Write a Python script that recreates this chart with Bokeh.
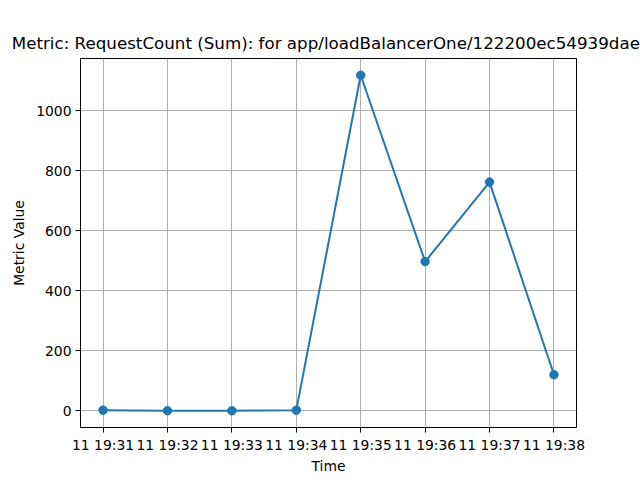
from bokeh.plotting import figure
from bokeh.embed import file_html
from bokeh.resources import INLINE
from bokeh.models import Range1d, FixedTicker, SingleIntervalTicker

times = ["11 19:31", "11 19:32", "11 19:33", "11 19:34", "11 19:35", "11 19:36", "11 19:37", "11 19:38"]
values = [2, 0, 0, 2, 1118, 497, 762, 120]
title_text = "Metric: RequestCount (Sum):  for app/loadBalancerOne/122200ec54939dae"

xs = list(range(len(times)))
ymin, ymax = min(values), max(values)
pad = (ymax - ymin) * 0.05

p = figure(width=640, height=480, output_backend="svg", toolbar_location=None,
           x_range=Range1d(-0.35, len(times) - 1 + 0.35),
           y_range=Range1d(ymin - pad, ymax + pad),
           min_border_left=80, min_border_right=64, min_border_top=58, min_border_bottom=53)
p.background_fill_color = "white"
p.border_fill_color = "white"
p.outline_line_color = "black"
p.outline_line_width = 1

p.title.text = title_text
p.title.align = "center"
p.title.text_font = "DejaVu Sans"
p.title.text_font_size = "16.7px"
p.title.text_font_style = "normal"
p.title.text_color = "black"
p.title.standoff = 12

p.line(xs, values, line_color="#1f77b4", line_width=2)
p.scatter(xs, values, size=8.5, fill_color="#1f77b4", line_color="#1f77b4")

for ax in (p.xaxis[0], p.yaxis[0]):
    ax.axis_line_color = None
    ax.major_tick_line_color = "black"
    ax.major_tick_out = 5
    ax.major_tick_in = 0
    ax.minor_tick_line_color = None
    ax.major_label_text_font = "DejaVu Sans"
    ax.major_label_text_font_size = "13.9px"
    ax.major_label_text_color = "black"
    ax.axis_label_text_font = "DejaVu Sans"
    ax.axis_label_text_font_size = "13.9px"
    ax.axis_label_text_font_style = "normal"
    ax.axis_label_text_color = "black"

p.xaxis.ticker = FixedTicker(ticks=xs)
p.xaxis.major_label_overrides = {i: t for i, t in enumerate(times)}
p.xaxis.axis_label = "Time"
p.xaxis.major_label_standoff = 4
p.xaxis.axis_label_standoff = 2
p.yaxis.ticker = SingleIntervalTicker(interval=200)
p.yaxis.axis_label = "Metric Value"
p.yaxis.major_label_standoff = 4
p.yaxis.axis_label_standoff = 6
p.yaxis.major_label_orientation = "horizontal"

p.grid.grid_line_color = "#b0b0b0"
p.grid.grid_line_width = 1

open("out.html", "w").write(file_html(p, INLINE))
